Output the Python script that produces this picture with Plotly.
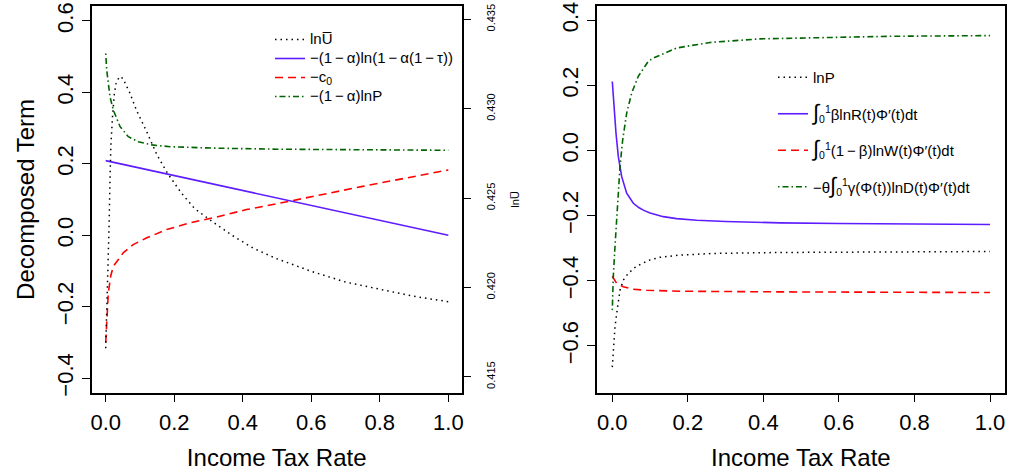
import plotly.graph_objects as go

W, H = 1009, 474

# ---------------- Left panel data ----------------
tau_lnU = [0, 0.003, 0.0075, 0.01, 0.0125, 0.015, 0.02, 0.025, 0.03, 0.04, 0.05, 0.07,
           0.09, 0.12, 0.15, 0.18, 0.22, 0.26, 0.31, 0.37, 0.43, 0.5, 0.6, 0.7, 0.8, 0.9, 1.0]
lnU = [0.4166, 0.4184, 0.4214, 0.4236, 0.4260, 0.4279, 0.4296, 0.4308, 0.4314, 0.4318, 0.4317,
       0.4309, 0.4299, 0.4287, 0.4274, 0.4264, 0.4253, 0.4244, 0.4237, 0.4229, 0.4222, 0.4216,
       0.4209, 0.4203, 0.4199, 0.4195, 0.4192]

tau_blue_L = [0, 0.25, 0.5, 0.75, 1.0]
blue_L = [0.209, 0.157, 0.103, 0.051, 0.0]

tau_red_L = [0, 0.003, 0.0076, 0.0146, 0.022, 0.037, 0.051, 0.08, 0.12, 0.178, 0.246, 0.314,
             0.411, 0.509, 0.75, 1.0]
red_L = [-0.300, -0.226, -0.161, -0.114, -0.087, -0.068, -0.049, -0.026, -0.007, 0.016, 0.035,
         0.049, 0.072, 0.090, 0.137, 0.183]

tau_green_L = [0, 0.003, 0.0125, 0.022, 0.042, 0.066, 0.095, 0.134, 0.188, 0.313, 0.5, 1.0]
green_L = [0.509, 0.462, 0.388, 0.351, 0.304, 0.276, 0.262, 0.253, 0.248, 0.244, 0.241, 0.238]

# ---------------- Right panel data ----------------
tau_lnP_R = [0, 0.0026, 0.0071, 0.0117, 0.0159, 0.0204, 0.0291, 0.0423, 0.0601, 0.0778, 0.0997,
             0.126, 0.179, 0.267, 0.444, 1.0]
lnP_R = [-0.665, -0.613, -0.542, -0.500, -0.459, -0.429, -0.398, -0.377, -0.359, -0.347, -0.336,
         -0.328, -0.321, -0.316, -0.313, -0.310]

tau_blue_R = [0, 0.0045, 0.0098, 0.0159, 0.0249, 0.0381, 0.0556, 0.07, 0.0821, 0.1, 0.135, 0.17,
              0.2235, 0.3, 0.444, 0.6, 1.0]
blue_R = [0.212, 0.124, 0.053, -0.018, -0.080, -0.131, -0.162, -0.175, -0.183, -0.192, -0.203,
          -0.209, -0.214, -0.218, -0.222, -0.224, -0.227]

tau_red_R = [0, 0.0117, 0.0291, 0.0556, 0.0910, 0.179, 0.444, 1.0]
red_R = [-0.386, -0.408, -0.418, -0.426, -0.429, -0.432, -0.434, -0.436]

tau_green_R = [0, 0.0026, 0.0071, 0.0117, 0.0159, 0.0204, 0.0275, 0.0381, 0.0514, 0.0688, 0.0953,
               0.1086, 0.1705, 0.2587, 0.391, 0.5676, 0.743, 1.0]
green_R = [-0.490, -0.388, -0.295, -0.203, -0.116, -0.049, 0.033, 0.115, 0.177, 0.228, 0.274,
           0.284, 0.315, 0.332, 0.343, 0.348, 0.351, 0.353]

# ---------------- Labels ----------------
m = "\u2009\u2212\u2009"
names_L = ["lnU\u0305",
           f"\u2212(1{m}\u03b1)ln(1{m}\u03b1(1{m}\u03c4))",
           "\u2212c<sub>0</sub>",
           f"\u2212(1{m}\u03b1)lnP"]
integ = "<span style='font-size:22px'>\u222b</span><sub>0</sub><sup>1</sup>"
names_R = ["lnP",
           integ + "\u03b2lnR(t)\u03a6\u2032(t)dt",
           integ + f"(1{m}\u03b2)lnW(t)\u03a6\u2032(t)dt",
           "\u2212\u03b8" + integ + "\u03b3(\u03a6(t))lnD(t)\u03a6\u2032(t)dt"]
xtitle = "Income Tax Rate"
ytitle_L = "Decomposed Term"
ytitle_sec = "lnU\u0305"


def big(s, px=15):
    return f"<span style='font-size:{px}px'>{s}</span>"


BLACK = "#000000"
BLUE = "#5E1CFF"
RED = "#FF0000"
GREEN = "#006400"
DOT = "1.5px,4px"
DASH = "8px,5px"
DASHDOT = "1.5px,3px,6px,3px"

fig = go.Figure()

# left panel
fig.add_trace(go.Scatter(x=tau_lnU, y=lnU, mode="lines", name=big(names_L[0]), xaxis="x", yaxis="y3",
                         line=dict(color=BLACK, width=1.5, dash=DOT), legend="legend"))
fig.add_trace(go.Scatter(x=tau_blue_L, y=blue_L, mode="lines", name=big(names_L[1]), xaxis="x", yaxis="y",
                         line=dict(color=BLUE, width=1.6), legend="legend"))
fig.add_trace(go.Scatter(x=tau_red_L, y=red_L, mode="lines", name=big(names_L[2]), xaxis="x", yaxis="y",
                         line=dict(color=RED, width=1.6, dash=DASH), legend="legend"))
fig.add_trace(go.Scatter(x=tau_green_L, y=green_L, mode="lines", name=big(names_L[3]), xaxis="x", yaxis="y",
                         line=dict(color=GREEN, width=1.6, dash=DASHDOT), legend="legend"))

# right panel
fig.add_trace(go.Scatter(x=tau_lnP_R, y=lnP_R, mode="lines", name=names_R[0], xaxis="x2", yaxis="y2",
                         line=dict(color=BLACK, width=1.5, dash=DOT), legend="legend2", legendgroup="a"))
fig.add_trace(go.Scatter(x=tau_blue_R, y=blue_R, mode="lines", name=names_R[1], xaxis="x2", yaxis="y2",
                         line=dict(color=BLUE, width=1.6), legend="legend2", legendgroup="b"))
fig.add_trace(go.Scatter(x=tau_red_R, y=red_R, mode="lines", name=names_R[2], xaxis="x2", yaxis="y2",
                         line=dict(color=RED, width=1.6, dash=DASH), legend="legend2", legendgroup="c"))
fig.add_trace(go.Scatter(x=tau_green_R, y=green_R, mode="lines", name=names_R[3], xaxis="x2", yaxis="y2",
                         line=dict(color=GREEN, width=1.6, dash=DASHDOT), legend="legend2", legendgroup="d"))

FONT = "Liberation Sans, Arial, Helvetica, sans-serif"
ax_common = dict(showline=True, linecolor="black", linewidth=1.5, mirror=True, ticks="outside",
                 ticklen=8, tickwidth=1.3, tickcolor="black", showgrid=False, zeroline=False,
                 tickfont=dict(size=22, color="black", family=FONT), automargin=False)

ydom = [1 - 392.5 / H, 1 - 6.3 / H]

fig.update_layout(
    width=W, height=H,
    margin=dict(l=0, r=0, t=0, b=0, autoexpand=False),
    paper_bgcolor="white", plot_bgcolor="white",
    font=dict(family=FONT, color="black"),
    xaxis=dict(domain=[91.7 / W, 461.7 / W], range=[-0.0409, 1.039], tick0=0, dtick=0.2,
               tickformat=".1f", anchor="y", tickangle=0, ticklabelstandoff=1,
               title=dict(text=xtitle, font=dict(size=24), standoff=16), **ax_common),
    yaxis=dict(domain=ydom, range=[-0.440, 0.641], tick0=0, dtick=0.2, tickformat=".1f",
               tickangle=-90, anchor="x",
               title=dict(text=ytitle_L, font=dict(size=24), standoff=12), **ax_common),
    yaxis3=dict(overlaying="y", side="right", anchor="x", range=[0.41412, 0.43573], tick0=0.415,
                dtick=0.005, tickformat=".3f", tickangle=-90, showline=True, linecolor="black",
                linewidth=1.5, ticks="outside", ticklen=8, tickwidth=1.3, tickcolor="black",
                showgrid=False, zeroline=False, automargin=False, ticklabelstandoff=10,
                tickfont=dict(size=11, color="black", family=FONT),
                title=dict(text=ytitle_sec, font=dict(size=11), standoff=16)),
    xaxis2=dict(domain=[596.7 / W, 1005 / W], range=[-0.0413, 1.0397], tick0=0, dtick=0.2,
                tickformat=".1f", anchor="y2", tickangle=0, ticklabelstandoff=1,
                title=dict(text=xtitle, font=dict(size=24), standoff=16), **ax_common),
    yaxis2=dict(domain=ydom, range=[-0.743, 0.443], tick0=0, dtick=0.2, tickformat=".1f",
                tickangle=-90, anchor="x2", **ax_common),
    legend=dict(x=270 / W, y=1 - 25 / H,
                xanchor="left", yanchor="top", bgcolor="rgba(0,0,0,0)", borderwidth=0,
                font=dict(size=12, family=FONT, color="black"), tracegroupgap=0,
                itemwidth=30),
    legend2=dict(x=773 / W, y=1 - 61 / H,
                 xanchor="left", yanchor="top", bgcolor="rgba(0,0,0,0)", borderwidth=0,
                 font=dict(size=15, family=FONT, color="black"), tracegroupgap=14,
                 traceorder="grouped", itemwidth=30),
    showlegend=True,
)

fig.write_html("out.html", config={"displayModeBar": False},
               post_script="document.body.style.margin='0px';document.body.style.overflow='hidden';")
